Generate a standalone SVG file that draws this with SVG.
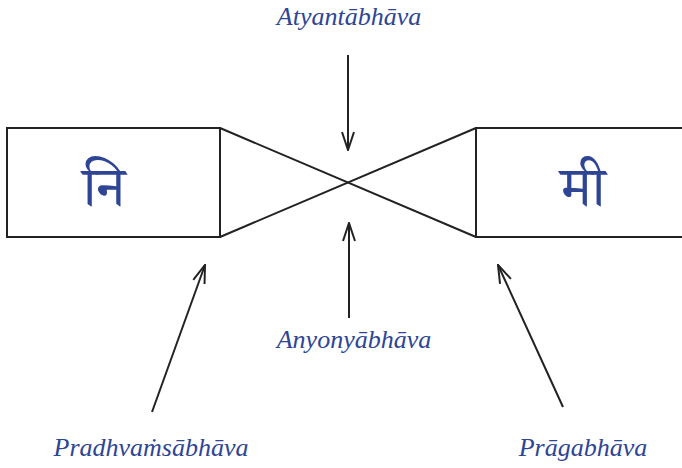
<svg xmlns="http://www.w3.org/2000/svg" width="682" height="468" viewBox="0 0 682 468">
<style>
.box{fill:#fff;stroke:#222;stroke-width:2}
.ln{fill:none;stroke:#222;stroke-width:2}
.lbl{font-family:"Liberation Serif","DejaVu Serif",serif;font-style:italic;font-size:26px;fill:#2e4595;text-anchor:middle}
.dev{font-family:"Noto Serif Devanagari","Noto Sans Devanagari","Lohit Devanagari","Noto Sans","DejaVu Sans",sans-serif;font-size:56px;fill:#2e4595;text-anchor:middle}
</style>
<defs>
<marker id="ah" viewBox="0 0 20 14" refX="19" refY="7" markerWidth="20" markerHeight="14" markerUnits="userSpaceOnUse" orient="auto">
<path d="M1,1 L19,7 L1,13" fill="none" stroke="#222" stroke-width="2"/>
</marker>
</defs>
<g id="connectors">
<line class="ln" x1="220" y1="128" x2="476" y2="237"/>
<line class="ln" x1="220" y1="237" x2="476" y2="128"/>
<line class="ln" x1="348" y1="55" x2="348" y2="150" marker-end="url(#ah)"/>
<line class="ln" x1="349" y1="318" x2="349" y2="223" marker-end="url(#ah)"/>
<line class="ln" x1="152" y1="412" x2="205" y2="265" marker-end="url(#ah)"/>
<line class="ln" x1="563" y1="407" x2="498" y2="265" marker-end="url(#ah)"/>
</g>
<g id="node-ni">
<rect class="box" x="7" y="128" width="213" height="109"/>
<text class="dev" x="104" y="206">नि</text>
</g>
<g id="node-mi">
<rect class="box" x="476" y="128" width="210" height="109"/>
<text class="dev" x="583" y="206">मी</text>
</g>
<g id="label-atyanta"><text class="lbl" x="349" y="25">Atyantābhāva</text></g>
<g id="label-anyonya"><text class="lbl" x="354" y="348">Anyonyābhāva</text></g>
<g id="label-pradhvamsa"><text class="lbl" x="151" y="456">Pradhvaṁsābhāva</text></g>
<g id="label-praga"><text class="lbl" x="583" y="456">Prāgabhāva</text></g>
</svg>
